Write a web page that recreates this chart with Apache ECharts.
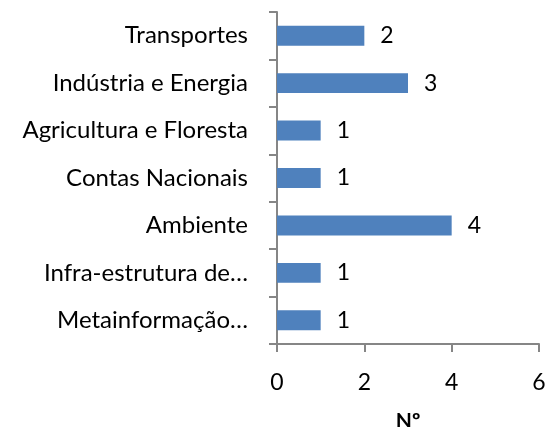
<!DOCTYPE html>
<html>
<head>
<meta charset="utf-8">
<script src="https://cdn.jsdelivr.net/npm/echarts@6/dist/echarts.min.js"></script>
<style>
  html, body { margin: 0; padding: 0; background: #fff; }
  #chart { width: 548px; height: 427px; }
</style>
</head>
<body>
<div id="chart"></div>
<script>
const categories = [
  'Transportes',
  'Indústria e Energia',
  'Agricultura e Floresta',
  'Contas Nacionais',
  'Ambiente',
  'Infra-estrutura de…',
  'Metainformação…'
];
const counts = [2, 3, 1, 1, 4, 1, 1];
const xTicks = { min: 0, max: 6, interval: 2 };

const font = 'Lato, "Open Sans", sans-serif';
const axisColor = '#868686';

const chart = echarts.init(document.getElementById('chart'));
chart.setOption({
  animation: false,
  grid: { left: 277, right: 9, top: 12, bottom: 83, containLabel: false, outerBoundsMode: 'none' },
  xAxis: {
    type: 'value',
    min: xTicks.min,
    max: xTicks.max,
    interval: xTicks.interval,
    name: 'Nº',
    nameLocation: 'middle',
    nameGap: 67,
    nameTextStyle: { fontFamily: font, fontSize: 21, fontWeight: 'bold', color: '#000' },
    axisLine: { show: true, lineStyle: { color: axisColor, width: 2 } },
    axisTick: { show: true, length: 8, lineStyle: { color: axisColor, width: 2 } },
    axisLabel: { margin: 27, fontFamily: font, fontSize: 23, color: '#000' },
    splitLine: { show: false }
  },
  yAxis: {
    type: 'category',
    data: categories,
    inverse: true,
    axisLine: { show: true, lineStyle: { color: axisColor, width: 2 } },
    axisTick: { show: true, length: 8, lineStyle: { color: axisColor, width: 2 } },
    axisLabel: { margin: 29, fontFamily: font, fontSize: 24, color: '#000', padding: [4, 0, 0, 0] }
  },
  series: [{
    type: 'bar',
    data: counts,
    barWidth: '42%',
    itemStyle: { color: '#4f81bd' },
    label: {
      show: true,
      position: 'right',
      distance: 16,
      fontFamily: font,
      fontSize: 23,
      color: '#000',
      padding: [6, 0, 0, 0]
    }
  }]
});
</script>
</body>
</html>
